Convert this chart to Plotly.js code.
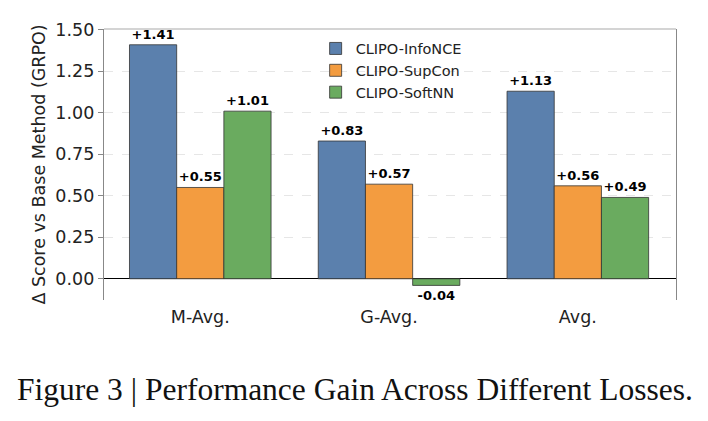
<!DOCTYPE html>
<html>
<head>
<meta charset="utf-8">
<script src="https://cdn.plot.ly/plotly-3.0.1.min.js"></script>
<style>
html,body{margin:0;padding:0;background:#fff;}
#chart{width:708px;height:421px;}
</style>
</head>
<body>
<div id="chart"></div>
<script>
const categories = ["M-Avg.", "G-Avg.", "Avg."];
const seriesNames = ["CLIPO-InfoNCE", "CLIPO-SupCon", "CLIPO-SoftNN"];
const infoNCE = [1.41, 0.83, 1.13];
const supCon = [0.55, 0.57, 0.56];
const softNN = [1.01, -0.04, 0.49];
const yTicks = [0, 0.25, 0.5, 0.75, 1.0, 1.25, 1.5];
const caption = "Figure 3 | Performance Gain Across Different Losses.";

const colors = ["#5b80ad", "#f39c40", "#6aab5f"];
const fmt = v => (v >= 0 ? "+" : "") + v.toFixed(2);

const allSeries = [infoNCE, supCon, softNN];
const traces = allSeries.map((vals, i) => ({
  type: "bar",
  name: seriesNames[i],
  x: categories,
  y: vals,
  text: vals.map(fmt),
  textposition: "outside",
  textangle: 0,
  cliponaxis: false,
  constraintext: "none",
  textfont: {family: "DejaVu Sans", size: 13, color: "#000", weight: "bold"},
  marker: {color: colors[i], line: {color: "#333", width: 0.8}},
  hoverinfo: "none"
}));

const layout = {
  width: 708, height: 421,
  margin: {l: 104, r: 32, t: 29, b: 121},
  paper_bgcolor: "#fff", plot_bgcolor: "#fff",
  barmode: "group", bargap: 0.25, bargroupgap: 0,
  font: {family: "DejaVu Sans", color: "#222"},
  showlegend: true,
  legend: {
    x: 0.37, y: 0.987, xanchor: "left", yanchor: "top",
    bgcolor: "rgba(255,255,255,0)",
    font: {family: "DejaVu Sans", size: 14.5, color: "#222"}
  },
  xaxis: {
    type: "category",
    range: [-0.51, 2.52],
    showgrid: false, zeroline: false, showline: false,
    ticks: "",
    ticklabelstandoff: 4,
    tickfont: {family: "DejaVu Sans", size: 17.5, color: "#222"},
    fixedrange: true
  },
  yaxis: {
    range: [-0.128, 1.505],
    tickvals: yTicks,
    tickformat: ".2f",
    ticks: "outside", ticklen: 5, tickcolor: "#888",
    tickfont: {family: "DejaVu Sans", size: 17.5, color: "#222"},
    showline: true, linecolor: "#888", linewidth: 1.2, mirror: true,
    showgrid: true, gridcolor: "#e6e6e6", griddash: "dash", gridwidth: 1,
    zeroline: true, zerolinecolor: "#000", zerolinewidth: 1.2,
    title: {text: "Δ Score vs Base Method (GRPO)", font: {family: "DejaVu Sans", size: 17.5, color: "#222"}, standoff: 5},
    fixedrange: true
  },
  shapes: [
    {type: "line", xref: "paper", yref: "paper", x0: 0, x1: 1, y0: 1, y1: 1, line: {color: "#aaa", width: 1.2}}
  ],
  annotations: [
    {text: caption, xref: "paper", yref: "paper", x: 0.439, y: -0.332, xanchor: "center", yanchor: "middle",
     showarrow: false, font: {family: "Liberation Serif", size: 31.5, color: "#111"}}
  ]
};

Plotly.newPlot("chart", traces, layout, {displayModeBar: false, staticPlot: true});
</script>
</body>
</html>
